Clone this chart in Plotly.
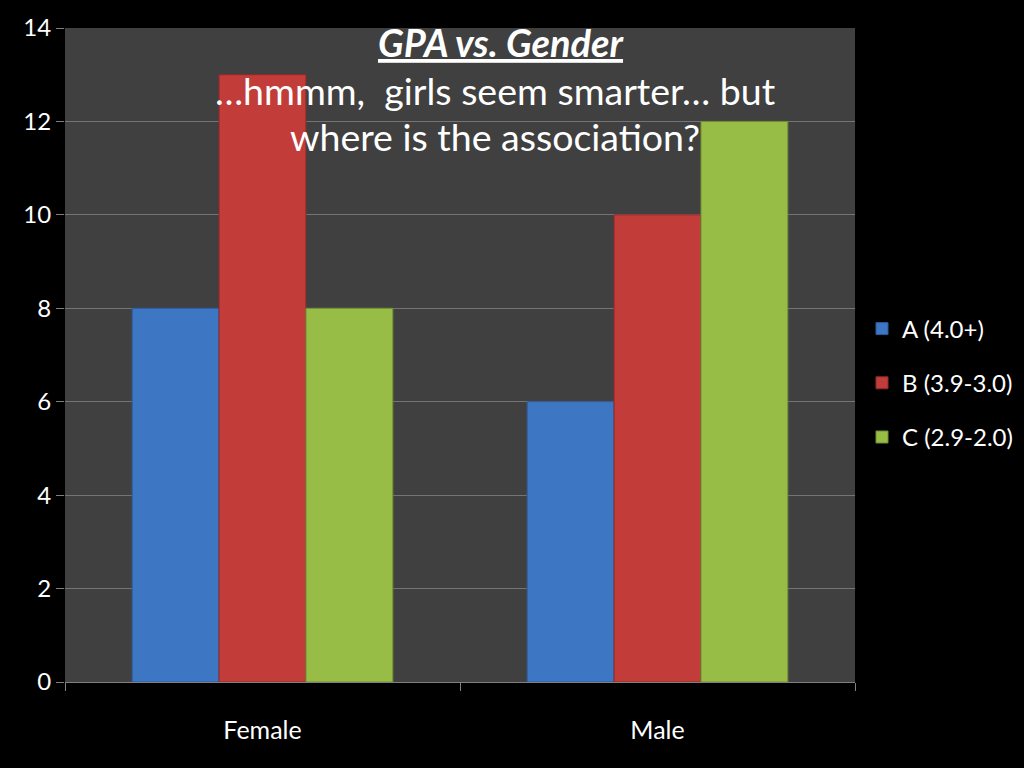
import plotly.graph_objects as go

categories = ["Female", "Male"]
series_names = ["A (4.0+)", "B (3.9-3.0)", "C (2.9-2.0)"]
values_a = [8, 6]
values_b = [13, 10]
values_c = [8, 12]
y_ticks = [0, 2, 4, 6, 8, 10, 12, 14]

colors = ["#3d76c2", "#c23c3a", "#97bd47"]
edge_colors = ["#2c5a9a", "#8e2a28", "#6f8c33"]

fig = go.Figure()
for name, vals, c, ec in zip(series_names, [values_a, values_b, values_c], colors, edge_colors):
    fig.add_trace(go.Bar(
        x=categories, y=vals, name=name, legendgroup=name,
        marker=dict(color=c, line=dict(color=ec, width=1)),
    ))

font_family = "Lato, Open Sans, sans-serif"

fig.update_layout(
    width=1024, height=768,
    paper_bgcolor="#000000",
    plot_bgcolor="#404040",
    barmode="group",
    bargap=0.34,
    bargroupgap=0,
    margin=dict(l=65, r=169, t=28, b=86, autoexpand=False),
    font=dict(family=font_family, color="#ffffff", size=22),
    legend=dict(
        xref="container", yref="container",
        x=862 / 1024, y=1 - 383 / 768, xanchor="left", yanchor="middle",
        font=dict(size=24, color="#ffffff", family=font_family),
        bgcolor="rgba(0,0,0,0)",
        itemwidth=30,
        tracegroupgap=20,
    ),
    showlegend=True,
)

fig.update_yaxes(
    range=[0, 14], tickvals=y_ticks,
    showgrid=True, gridcolor="#747474", gridwidth=1,
    ticks="outside", ticklen=8, tickcolor="#808080",
    tickfont=dict(size=24, color="#ffffff", family=font_family),
    showline=False, zeroline=True, zerolinecolor="#808080", zerolinewidth=1,
    fixedrange=True,
)
fig.update_xaxes(
    tickson="boundaries", ticks="outside", ticklen=8, tickcolor="#808080",
    showline=True, linecolor="#808080", linewidth=1,
    tickfont=dict(size=25, color="#ffffff", family=font_family),
    ticklabelstandoff=26,
    showgrid=False,
)

title_font = "Lato, Open Sans, sans-serif"
fig.add_annotation(
    x=(501 - 65) / 790, xref="paper", y=(682 - 42) / 654, yref="paper",
    text="<b><i><u>GPA vs. Gender</u></i></b>", yanchor="middle",
    showarrow=False, font=dict(size=38, color="#ffffff", family=title_font),
)
fig.add_annotation(
    x=(495 - 65) / 790, xref="paper", y=(682 - 90) / 654, yref="paper",
    text="…hmmm,  girls seem smarter… but", showarrow=False, yanchor="middle",
    font=dict(size=37.5, color="#ffffff", family=title_font),
)
fig.add_annotation(
    x=(495 - 65) / 790, xref="paper", y=(682 - 137) / 654, yref="paper",
    text="where is the association?", showarrow=False, yanchor="middle",
    font=dict(size=37.5, color="#ffffff", family=title_font),
)

fig.write_html(
    "out.html",
    config={"displayModeBar": False},
    post_script="document.body.style.margin='0';document.body.style.background='#000';",
)
